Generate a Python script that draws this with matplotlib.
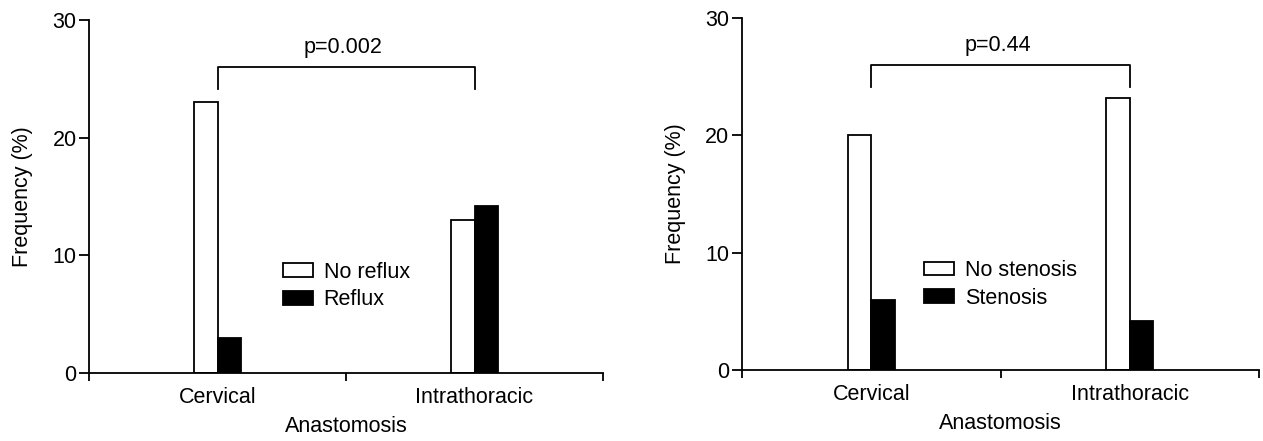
import matplotlib
matplotlib.use("Agg")
import matplotlib.pyplot as plt
from matplotlib.patches import Patch
import numpy as np

plt.rcParams['font.family'] = ['Liberation Sans', 'DejaVu Sans']

categories = ["Cervical", "Intrathoracic"]
reflux_labels = ["No reflux", "Reflux"]
no_reflux = [23, 13]
reflux = [3, 14.2]
p_reflux = "p=0.002"

stenosis_labels = ["No stenosis", "Stenosis"]
no_stenosis = [20, 23.2]
stenosis = [6, 4.2]
p_stenosis = "p=0.44"

yticks = [0, 10, 20, 30]

FS = 15.5

fig = plt.figure(figsize=(12.63, 4.41), dpi=100)
ax1 = fig.add_axes([89 / 1263, (441 - 373) / 441, 514 / 1263, 353 / 441])
ax2 = fig.add_axes([742 / 1263, (441 - 370) / 441, 517 / 1263, 352 / 441])

def draw(ax, a, b, labels, ptext, leg_anchor):
    x = np.array([1.0, 3.0])
    w = 0.18
    ax.bar(x - w / 2, a, width=w, color="white", edgecolor="black", linewidth=1.3, label=labels[0])
    ax.bar(x + w / 2, b, width=w, color="black", edgecolor="black", linewidth=1.3, label=labels[1])
    ax.set_xlim(0, 4)
    ax.set_ylim(0, 30)
    ax.set_yticks(yticks)
    ax.set_xticks([0, 2, 4])
    ax.set_xticklabels([])
    ax.set_xticks(x, minor=True)
    ax.set_xticklabels(categories, minor=True)
    ax.tick_params(axis="x", which="minor", length=0, pad=10, labelsize=FS)
    ax.tick_params(axis="x", which="major", length=6, width=1.3, direction="out")
    ax.tick_params(axis="y", length=7, width=1.3, direction="out", labelsize=FS, pad=2)
    for s in ["top", "right"]:
        ax.spines[s].set_visible(False)
    for s in ["left", "bottom"]:
        ax.spines[s].set_linewidth(1.3)
    ax.set_ylabel("Frequency (%)", fontsize=FS, labelpad=14)
    ax.set_xlabel("Anastomosis", fontsize=FS, labelpad=6)
    # significance bracket
    x0, x1 = x[0], x[1]
    ytop, ybot = 26.0, 24.1
    ax.plot([x0, x0, x1, x1], [ybot, ytop, ytop, ybot], color="black", linewidth=1.3, clip_on=False)
    ax.text((x0 + x1) / 2 - 0.02, ytop + 0.8, ptext, ha="center", va="bottom", fontsize=FS)
    handles = [Patch(facecolor="white", edgecolor="black", linewidth=1.3),
               Patch(facecolor="black", edgecolor="black", linewidth=1.3)]
    ax.legend(handles, labels, loc="upper left", bbox_to_anchor=leg_anchor, frameon=False,
              fontsize=FS, handlelength=1.4, handleheight=0.6, handletextpad=0.5,
              labelspacing=0.3, borderaxespad=0, borderpad=0)

draw(ax1, no_reflux, reflux, reflux_labels, p_reflux, (0.377, 0.315))
draw(ax2, no_stenosis, stenosis, stenosis_labels, p_stenosis, (0.352, 0.312))

fig.savefig("out.png", dpi=100)
